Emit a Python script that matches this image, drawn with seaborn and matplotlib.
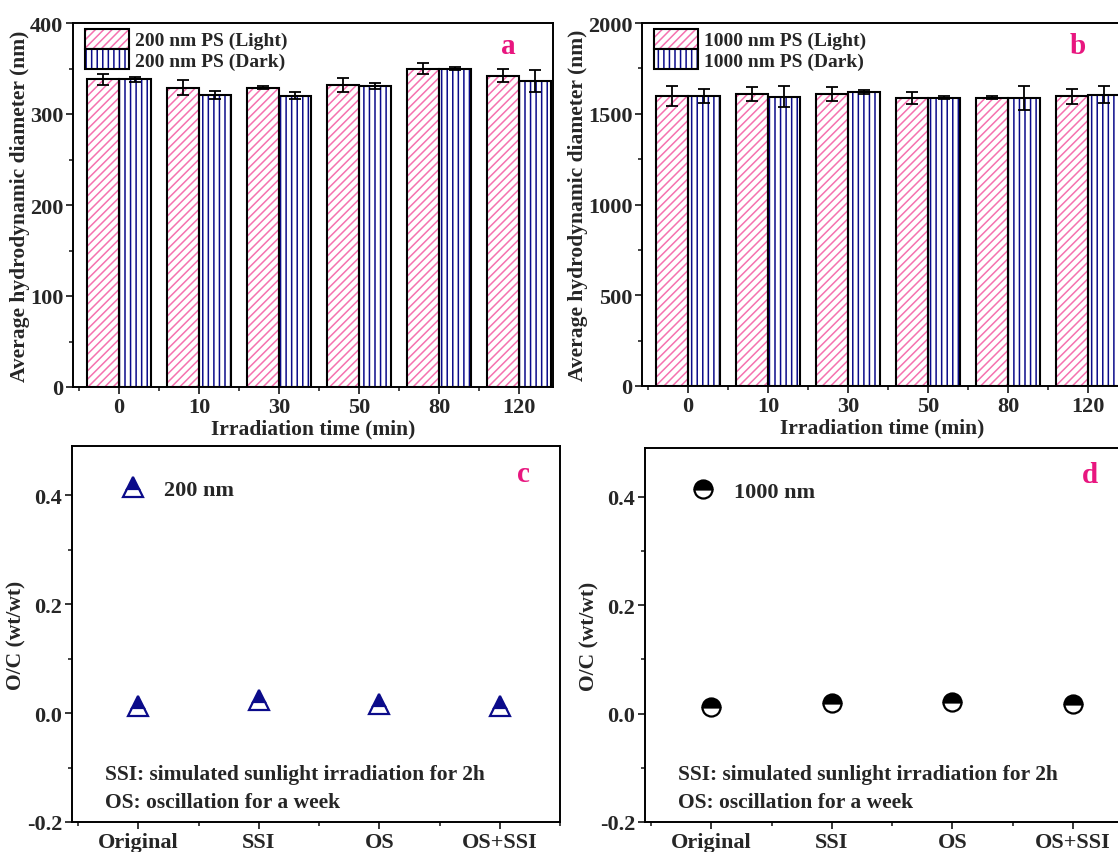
import numpy as np
import pandas as pd
import matplotlib
matplotlib.use("Agg")
import matplotlib.pyplot as plt
import matplotlib.patches as mpatches
from matplotlib.legend_handler import HandlerTuple
from matplotlib.ticker import MultipleLocator, FixedLocator
import seaborn as sns

# ---------------- data ----------------
times = ["0", "10", "30", "50", "80", "120"]
a_light = [338, 329, 329, 332, 350, 342]
a_light_err = [6, 8, 2, 8, 6, 7]
a_dark = [338, 321, 320, 331, 350, 336]
a_dark_err = [3, 4, 4, 3, 2, 12]

b_light = [1599, 1608, 1608, 1588, 1588, 1597]
b_light_err = [54, 40, 38, 33, 8, 42]
b_dark = [1597, 1593, 1619, 1588, 1588, 1606]
b_dark_err = [40, 58, 12, 8, 65, 48]

treatments = ["Original", "SSI", "OS", "OS+SSI"]
oc_200 = [0.012, 0.023, 0.017, 0.013]
oc_1000 = [0.013, 0.020, 0.022, 0.018]

# ---------------- style ----------------
sns.set_theme(style="ticks")
plt.rcParams["font.family"] = ["Liberation Serif", "DejaVu Serif"]
plt.rcParams["font.weight"] = "bold"
plt.rcParams["axes.labelweight"] = "bold"
plt.rcParams["hatch.linewidth"] = 1.1
plt.rcParams["axes.linewidth"] = 1.4

PINK = "#F572B0"
NAVY = "#0B0B8A"
LETTER = "#E8167F"
TICK_FS = 16
LAB_FS = 15.5

fig = plt.figure(figsize=(11.18, 8.53), dpi=100)
W, H = 1118, 853


def add_ax(l, t, r, b):
    return fig.add_axes([l / W, 1 - b / H, (r - l) / W, (b - t) / H])


ax_a = add_ax(73, 24, 553, 388)
ax_b = add_ax(642, 24, 1122, 387)
ax_c = add_ax(72, 447, 560, 823)
ax_d = add_ax(645, 449, 1133, 823)


def style_ticks(ax):
    ax.tick_params(axis="both", which="major", direction="out", length=5, width=1.3,
                   labelsize=TICK_FS, top=False, right=False, pad=2)
    ax.tick_params(axis="both", which="minor", direction="out", length=3, width=1.2,
                   top=False, right=False)
    for s in ax.spines.values():
        s.set_linewidth(1.4)
        s.set_color("black")


def bar_panel(ax, light, light_err, dark, dark_err, size_label, ymax, ystep, letter):
    df = pd.DataFrame({
        "time": times * 2,
        "value": light + dark,
        "cond": ["Light"] * len(times) + ["Dark"] * len(times),
    })
    sns.barplot(data=df, x="time", y="value", hue="cond", order=times,
                hue_order=["Light", "Dark"], palette={"Light": "white", "Dark": "white"},
                width=0.8, errorbar=None, legend=False, saturation=1, linewidth=0, ax=ax)
    for cont, hatch, hc in zip(ax.containers[:2], ["////", "|||"], [PINK, NAVY]):
        for p in cont:
            p.set_hatch(hatch)
            p.set_edgecolor(hc)
            p.set_linewidth(0)
    # error bars at the bar centres
    for cont, vals, errs in zip(ax.containers[:2], [light, dark], [light_err, dark_err]):
        xs = [p.get_x() + p.get_width() / 2 for p in cont]
        ax.errorbar(xs, vals, yerr=errs, fmt="none", ecolor="black", elinewidth=1.3,
                    capsize=4, capthick=1.3, zorder=5)
    # black outlines
    sns.barplot(data=df, x="time", y="value", hue="cond", order=times,
                hue_order=["Light", "Dark"], palette={"Light": "black", "Dark": "black"},
                width=0.8, errorbar=None, legend=False, fill=False, linewidth=1.5,
                saturation=1, ax=ax)
    ax.set_xlim(-0.575, 5.425)
    ax.set_ylim(0, ymax)
    ax.yaxis.set_major_locator(MultipleLocator(ystep))
    ax.yaxis.set_minor_locator(MultipleLocator(ystep / 2))
    ax.xaxis.set_minor_locator(FixedLocator(np.arange(-0.5, len(times), 1.0)))
    ax.set_xlabel("Irradiation time (min)", fontsize=LAB_FS, labelpad=1)
    ax.set_ylabel("Average hydrodynamic diameter (nm)", fontsize=LAB_FS, labelpad=0)
    style_ticks(ax)
    h_light = (mpatches.Patch(facecolor="white", edgecolor=PINK, hatch="////", linewidth=0),
               mpatches.Patch(facecolor="none", edgecolor="black", linewidth=1.5))
    h_dark = (mpatches.Patch(facecolor="white", edgecolor=NAVY, hatch="|||", linewidth=0),
              mpatches.Patch(facecolor="none", edgecolor="black", linewidth=1.5))
    ax.legend([h_light, h_dark],
              [f"{size_label} nm PS (Light)", f"{size_label} nm PS (Dark)"],
              handler_map={tuple: HandlerTuple(ndivide=1, pad=0)},
              loc="upper left", bbox_to_anchor=(0.012, 1.0), frameon=False,
              fontsize=14, handlelength=2.3, handleheight=1.2, labelspacing=0.0,
              handletextpad=0.3, borderpad=0.15, borderaxespad=0.15)
    ax.text(0.907, 0.937, letter, transform=ax.transAxes, color=LETTER, fontsize=21,
            fontweight="bold", ha="center", va="center")


bar_panel(ax_a, a_light, a_light_err, a_dark, a_dark_err, "200", 400, 100, "a")
bar_panel(ax_b, b_light, b_light_err, b_dark, b_dark_err, "1000", 2000, 500, "b")


def oc_panel(ax, vals, color, marker, ms, label, letter, letter_x, leg_x):
    sns.pointplot(x=treatments, y=vals, color=color, markers=marker, linestyles="none",
                  errorbar=None, markersize=ms, markeredgewidth=1.6, fillstyle="top",
                  markerfacecoloralt="white", ax=ax)
    ax.set_xlim(-0.55, 3.5)
    ax.set_ylim(-0.2, 0.49)
    ax.yaxis.set_major_locator(MultipleLocator(0.2))
    ax.yaxis.set_minor_locator(MultipleLocator(0.1))
    ax.yaxis.set_major_formatter(matplotlib.ticker.FuncFormatter(lambda v, p: f"{v:.1f}"))
    ax.xaxis.set_minor_locator(FixedLocator(np.arange(-0.5, len(treatments), 1.0)))
    ax.set_xlabel("")
    ax.set_ylabel("O/C (wt/wt)", fontsize=LAB_FS, labelpad=0)
    style_ticks(ax)
    ax.legend([ax.lines[0]], [label], loc="center left", bbox_to_anchor=(leg_x, 0.883),
              frameon=False, fontsize=16, handlelength=1.0, handletextpad=0.9,
              borderpad=0.4, numpoints=1)
    ax.text(0.068, 0.128, "SSI: simulated sunlight irradiation for 2h", transform=ax.transAxes,
            fontsize=15.5, fontweight="bold", ha="left", va="center")
    ax.text(0.068, 0.053, "OS: oscillation for a week", transform=ax.transAxes,
            fontsize=15.5, fontweight="bold", ha="left", va="center")
    ax.text(letter_x, 0.928, letter, transform=ax.transAxes, color=LETTER, fontsize=21,
            fontweight="bold", ha="center", va="center")


oc_panel(ax_c, oc_200, NAVY, "^", 14, "200 nm", "c", 0.926, 0.062)
oc_panel(ax_d, oc_1000, "black", "o", 13, "1000 nm", "d", 0.912, 0.055)

fig.savefig("out.png", dpi=100)
